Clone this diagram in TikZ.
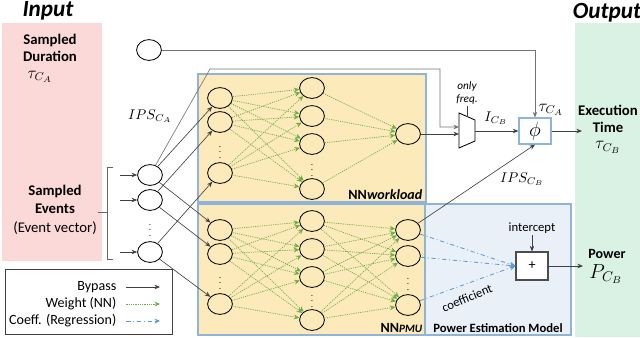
\documentclass[tikz,border=0pt]{standalone}
\usepackage{fontspec}
\setmainfont{Carlito}
\usetikzlibrary{arrows.meta,shapes.geometric}
\definecolor{inputbg}{HTML}{FCD9D9}
\definecolor{outputbg}{HTML}{DAF2E3}
\definecolor{nnbg}{HTML}{FCEABB}
\definecolor{pmebg}{HTML}{EAF0F8}
\definecolor{boxline}{HTML}{8FB4DA}
\definecolor{nngreen}{HTML}{70AD47}
\definecolor{coefblue}{HTML}{5B9BD5}
\begin{document}
\begin{tikzpicture}[x=0.025cm, y=-0.025cm,
  neuron/.style={draw, ellipse, line width=0.6pt, minimum width=0.62cm, minimum height=0.52cm, inner sep=0pt},
  vdotsnode/.style={inner sep=0pt, font=\bfseries\tiny},
  bypass/.style={draw=black!75, line width=0.45pt, -{Stealth[length=4pt, width=3.2pt]}},
  weight/.style={draw=nngreen, line width=0.5pt, dash pattern=on 0.8pt off 0.8pt, -{Stealth[length=4pt, width=3.5pt]}},
  coeff/.style={draw=coefblue, line width=0.6pt, dash dot, -{Stealth[length=4pt, width=3.5pt]}},
  headtext/.style={font=\fontsize{16.5}{18}\selectfont\bfseries\itshape},
  sidetext/.style={align=center, font=\fontsize{10.5}{12.5}\selectfont\bfseries, inner sep=0pt},
  opbox/.style={draw=boxline, line width=0.8pt, fill=white, minimum width=0.8cm, inner sep=0pt}]
\useasboundingbox (0,0) rectangle (640,337);
\fill[inputbg] (2,23) rectangle (102,261);
\fill[outputbg] (575,23) rectangle (640,337);
\filldraw[fill=nnbg, draw=boxline, line width=0.8pt] (198,74) rectangle (426,202);
\filldraw[fill=pmebg, draw=boxline, line width=0.8pt] (425,204) rectangle (571,335);
\filldraw[fill=nnbg, draw=boxline, line width=0.8pt] (198,204) rectangle (425,335);
\node[headtext] (intitle) at (48,11) {Input};
\node[headtext] (outtitle) at (607,13) {Output};
\node[sidetext] (durtext) at (50,48) {Sampled\\Duration};
\node (tauca) at (40,77) {\large$\tau_{C_A}$};
\node[sidetext] (evtext) at (55,210) {Sampled\\Events\\[1pt]\mdseries(Event vector)};
\draw[black!60, line width=0.45pt] (113,167) -- (107,167) -- (107,259) -- (113,259) (107,212) -- (98,212);
\node[neuron] (dur) at (149,50) {};
\foreach \y [count=\i] in {175,200,252} {
  \node[neuron] (ev-\i) at (150,\y) {};
  \coordinate (evsrc-\i) at (120,\y);
  \draw[bypass] (evsrc-\i) -- (ev-\i);
}
\node[vdotsnode] (ev-dots) at (150,226) {$\vdots$};
\foreach \y [count=\i] in {98,122,173} \node[neuron] (w-in-\i) at (220,\y) {};
\foreach \y [count=\i] in {88,116,144,189} \node[neuron] (w-hid-\i) at (312,\y) {};
\node[neuron] (w-out) at (408,134) {};
\node[vdotsnode] (w-in-dots) at (220,148) {$\vdots$};
\node[vdotsnode] (w-hid-dots) at (312,166) {$\vdots$};
\foreach \y [count=\i] in {230,254,304} \node[neuron] (p-in-\i) at (220,\y) {};
\foreach \y [count=\i] in {221,249,277,320} \node[neuron] (p-hid-\i) at (312,\y) {};
\foreach \y [count=\i] in {230,256,305} \node[neuron] (p-out-\i) at (408,\y) {};
\node[vdotsnode] (p-in-dots) at (220,279) {$\vdots$};
\node[vdotsnode] (p-hid-dots) at (312,297) {$\vdots$};
\node[vdotsnode] (p-out-dots) at (408,280) {$\vdots$};
\foreach \i in {1,2,3} \foreach \j in {1,...,4} \draw[weight] (w-in-\i) -- (w-hid-\j);
\foreach \j in {1,...,4} \draw[weight] (w-hid-\j) -- (w-out);
\foreach \i in {1,2,3} \foreach \j in {1,...,4} \draw[weight] (p-in-\i) -- (p-hid-\j);
\foreach \j in {1,...,4} \foreach \k in {1,2,3} \draw[weight] (p-hid-\j) -- (p-out-\k);
\node[anchor=south east, inner sep=1pt] (wl-label) at (424,201) {\bfseries NN\itshape workload};
\node[anchor=south east, inner sep=1pt] (pmu-label) at (424,334) {\bfseries NN\itshape\footnotesize PMU};
\node[anchor=south, inner sep=1pt, font=\bfseries\small] (pme-label) at (498,334) {Power Estimation Model};
\foreach \i in {1,2,3} {
  \draw[bypass] (ev-\i) -- (w-in-\i);
  \draw[bypass] (ev-\i) -- (p-in-\i);
}
\draw[line width=0.6pt] (459,113) -- (475,120) -- (475,141) -- (459,148) -- cycle;
\coordinate (mux-in1) at (459,127);
\coordinate (mux-in2) at (459,134);
\coordinate (mux-out) at (475,131);
\coordinate (mux-top) at (467,116.5);
\node[align=center, font=\footnotesize\itshape, inner sep=1pt] (freq) at (467,93) {only\\freq.};
\draw[black!75, line width=0.45pt] (freq) -- (mux-top);
\coordinate (ipsa-c1) at (210,69);
\coordinate (ipsa-c2) at (440,69);
\coordinate (ipsa-c3) at (440,127);
\draw[bypass, draw=black!55] (ev-1) -- (ipsa-c1) -- (ipsa-c2) -- (ipsa-c3) -- (mux-in1);
\node (ipsa) at (150,116) {$IPS_{C_A}$};
\draw[bypass] (w-out) -- (mux-in2);
\node[opbox, minimum height=0.65cm] (phi) at (535,131) {\Large$\phi$};
\draw[bypass] (mux-out) -- (phi);
\node (icb) at (496,118) {$I_{C_B}$};
\draw[bypass, draw=black!55] (dur) -- (dur -| phi) -- (phi);
\node (tau-in) at (551,110) {\large$\tau_{C_A}$};
\draw[bypass] (p-out-1) -- (phi.south);
\node (ipsb) at (522,179) {$IPS_{C_B}$};
\coordinate (exectip) at (582,131);
\draw[bypass] (phi) -- (exectip);
\node[sidetext] (exectext) at (608,129) {Execution\\Time\\[-1pt]\mdseries\large$\tau_{C_B}$};
\node[opbox, draw=black!70, minimum height=0.7cm] (plus) at (532,266) {+};
\node[font=\small, inner sep=1pt] (intercept) at (532,228) {intercept};
\draw[bypass] (intercept) -- (plus);
\foreach \k in {1,2,3} \draw[coeff] (p-out-\k) -- (plus.west);
\node[font=\small, rotate=23, inner sep=0pt] (coefftext) at (467,298) {coefficient};
\coordinate (powtip) at (583,266);
\draw[bypass] (plus) -- (powtip);
\node[font=\bfseries] (powtext) at (607,254) {Power};
\node (pcb) at (606,274) {\Large$P_{C_B}$};
\draw[black!75, line width=0.6pt, fill=white] (5,269) rectangle (172,334);
\node[anchor=east, inner sep=1pt] (lg-bypass) at (118,287) {Bypass};
\node[anchor=east, inner sep=1pt] (lg-weight) at (118,304) {Weight (NN)};
\node[anchor=east, inner sep=1pt] (lg-coeff) at (118,321) {Coeff. (Regression)};
\coordinate (lg-bypass-end) at (160,287);
\coordinate (lg-weight-end) at (160,304);
\coordinate (lg-coeff-end) at (160,321);
\draw[bypass] ([xshift=6pt]lg-bypass.east) -- (lg-bypass-end);
\draw[weight] ([xshift=6pt]lg-weight.east) -- (lg-weight-end);
\draw[coeff] ([xshift=6pt]lg-coeff.east) -- (lg-coeff-end);
\end{tikzpicture}
\end{document}
